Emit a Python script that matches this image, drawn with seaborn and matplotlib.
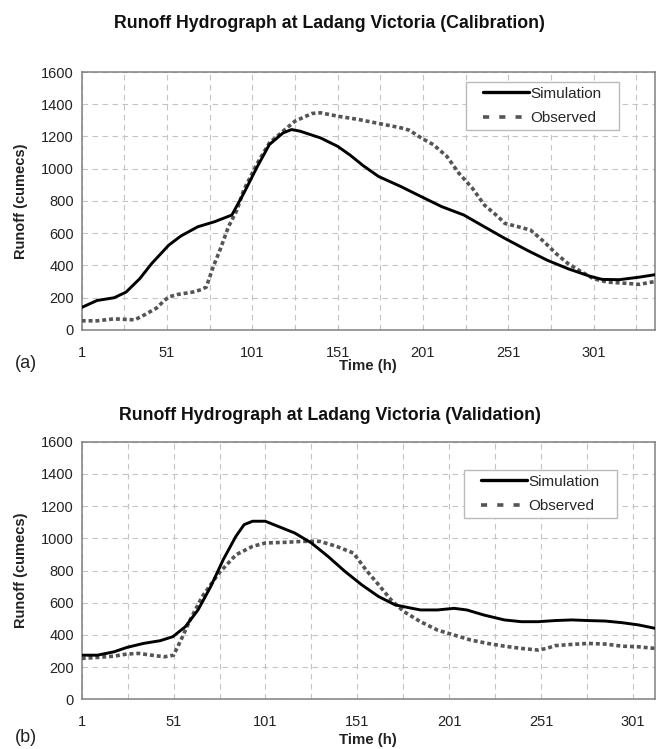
import numpy as np
import pandas as pd
import matplotlib
matplotlib.use("Agg")
import matplotlib.pyplot as plt
import seaborn as sns
from matplotlib.ticker import FixedLocator
from matplotlib.patches import Rectangle

# ---------------- data ----------------
cal_sim_t = [1, 10, 20, 27, 35, 42, 52, 59, 69, 79, 89, 96, 104, 111, 119, 124, 129,
             141, 151, 158, 166, 175, 188, 200, 212, 225, 237, 249, 262, 274, 286,
             299, 306, 316, 328, 337]
cal_sim_q = [140, 183, 200, 235, 318, 412, 526, 582, 640, 672, 713, 848, 1015, 1150, 1222, 1243, 1233,
             1191, 1139, 1087, 1019, 952, 890, 827, 765, 713, 640, 568, 495, 432, 380,
             333, 314, 312, 328, 343]

cal_obs_t = [1, 10, 20, 32, 38, 45, 49, 52, 57, 66, 71, 74, 78, 82, 87, 92, 96, 104, 111, 119,
             126, 136, 141, 151, 163, 175, 188, 193, 200, 207, 215, 222, 230, 237, 245,
             249, 257, 264, 272, 279, 286, 294, 301, 309, 318, 328, 337]
cal_obs_q = [57, 57, 69, 63, 95, 137, 179, 205, 220, 235, 250, 266, 390, 495, 640, 744, 869, 1035, 1160, 1233,
             1295, 1343, 1347, 1326, 1306, 1281, 1254, 1239, 1191, 1150, 1077, 973, 879, 775, 703,
             661, 640, 620, 547, 474, 412, 360, 318, 297, 291, 283, 301]

val_sim_t = [1, 9.5, 18.6, 25.5, 34.6, 43.7, 50.6, 57.4, 64.3, 71.2, 78, 84.9, 89.4, 94, 100.9,
             107.7, 116.9, 126, 135, 144.3, 153.4, 162.6, 171.7, 180.8, 185.4, 194.6, 203.7,
             210.6, 219.7, 231, 240.3, 249.4, 258.5, 267.7, 276.8, 286, 295, 304, 313]
val_sim_q = [274, 274, 295, 322, 347, 364, 389, 451, 555, 700, 867, 1012, 1085, 1106, 1106,
             1075, 1033, 971, 888, 794, 711, 638, 586, 565, 555, 555, 565,
             555, 524, 493, 482, 482, 489, 493, 489, 486, 476, 462, 441]

val_obs_t = [1, 9.5, 18.6, 25.5, 32, 39, 46, 51, 55, 60, 66.6, 75.7, 85, 94, 101, 112, 121,
             130.6, 139.7, 148.9, 155.7, 162.6, 169.4, 176.3, 185.4, 194.6, 203.7, 212.8,
             222, 231, 240.3, 249.4, 254, 258.5, 267.7, 276.8, 286, 295, 304, 313]
val_obs_q = [254, 260, 268, 281, 285, 274, 264, 274, 368, 493, 638, 784, 898, 950, 971, 975, 981,
             981, 950, 908, 804, 711, 617, 545, 482, 430, 399, 368,
             347, 330, 316, 306, 316, 333, 341, 347, 343, 330, 326, 316]

titles = ["Runoff Hydrograph at Ladang Victoria (Calibration)",
          "Runoff Hydrograph at Ladang Victoria (Validation)"]
panel_labels = ["(a)", "(b)"]
xmax = [337, 313]
major_ticks = [1, 51, 101, 151, 201, 251, 301]
y_ticks = [0, 200, 400, 600, 800, 1000, 1200, 1400, 1600]

# ---------------- styling ----------------
sns.set_style("white")
plt.rcParams['font.family'] = ['Liberation Sans', 'DejaVu Sans']

W, H = 659, 749
fig = plt.figure(figsize=(W / 100, H / 100), dpi=100)

def fx(px):
    return px / W

def fy(py):
    return 1 - py / H

axes_boxes = [(81.7, 655, 72, 330), (81.7, 655, 441.7, 699.3)]
title_y = [23, 415]
panel_y = [363, 738]
xlabel_y = [366, 740]
legend_boxes = [(466, 82, 619, 130), (464, 470, 617, 518)]

datasets = [
    (cal_sim_t, cal_sim_q, cal_obs_t, cal_obs_q),
    (val_sim_t, val_sim_q, val_obs_t, val_obs_q),
]

for i, (st, sq, ot, oq) in enumerate(datasets):
    l, r, t, b = axes_boxes[i]
    ax = fig.add_axes([fx(l), fy(b), fx(r) - fx(l), (b - t) / H])
    df_sim = pd.DataFrame({"t": st, "q": sq})
    df_obs = pd.DataFrame({"t": ot, "q": oq})
    sns.lineplot(data=df_sim, x="t", y="q", ax=ax, color="black", lw=2.1,
                 label="Simulation", zorder=4)
    sns.lineplot(data=df_obs, x="t", y="q", ax=ax, color="#555555", lw=2.6,
                 linestyle=(0, (1.1, 0.8)), label="Observed", zorder=3)
    ax.set_xlim(1, xmax[i])
    ax.set_ylim(0, 1600)
    ax.xaxis.set_major_locator(FixedLocator(major_ticks))
    minor = [v for v in range(26, xmax[i] + 1, 50)]
    ax.xaxis.set_minor_locator(FixedLocator(minor))
    ax.yaxis.set_major_locator(FixedLocator(y_ticks))
    ax.grid(True, which="both", axis="x", color="#c4c4c4", linestyle=(0, (5, 4)), lw=0.8)
    ax.grid(True, which="major", axis="y", color="#c4c4c4", linestyle=(0, (5, 4)), lw=0.8)
    ax.set_axisbelow(True)
    for s in ax.spines.values():
        s.set_color("#808080")
        s.set_linewidth(1.1)
    ax.tick_params(axis="both", which="both", direction="out", length=3.5,
                   color="#808080", labelsize=10.5, labelcolor="#222222")
    ax.tick_params(axis="x", which="major", pad=8)
    ax.tick_params(axis="y", which="major", pad=2)
    ax.set_xlabel("Time (h)", fontsize=10.8, fontweight="bold", color="#222222")
    ax.xaxis.set_label_coords(((l + r) / 2 - l) / (r - l), (b - xlabel_y[i]) / (b - t),
                              transform=ax.transAxes)
    ax.xaxis.label.set_va("center")
    ax.set_ylabel("Runoff (cumecs)", fontsize=10.5, fontweight="bold", color="#222222")
    ax.yaxis.set_label_coords((21 - l) / (r - l), 0.5, transform=ax.transAxes)
    ax.yaxis.label.set_va("center")

    # legend: frame drawn as a rectangle in the axes, entries centred inside it
    bx0, by0, bx1, by1 = legend_boxes[i]
    frame = Rectangle((fx(bx0), fy(by1)), fx(bx1) - fx(bx0), (by1 - by0) / H,
                      transform=fig.transFigure, facecolor="white",
                      edgecolor="#bbbbbb", lw=1.0, zorder=5, clip_on=False)
    ax.add_patch(frame)
    leg = ax.legend(loc="center",
                    bbox_to_anchor=(((bx0 + bx1) / 2 - l) / (r - l), (b - (by0 + by1) / 2) / (b - t)),
                    fontsize=11, frameon=False, handlelength=3.0,
                    handletextpad=0.1, borderpad=0.0, labelspacing=0.7,
                    borderaxespad=0)
    leg.set_zorder(7)
    hl = leg.get_lines()
    hl[0].set_linewidth(2.4)
    hl[1].set_linestyle((0, (1.7, 2.8)))
    hl[1].set_linewidth(2.6)

    fig.text(fx(329.5), fy(title_y[i]), titles[i], ha="center", va="center",
             fontsize=12.8, fontweight="bold", color="#111111")
    fig.text(fx(15), fy(panel_y[i]), panel_labels[i], ha="left", va="center",
             fontsize=13, color="#222222")

fig.savefig("out.png", dpi=100)
